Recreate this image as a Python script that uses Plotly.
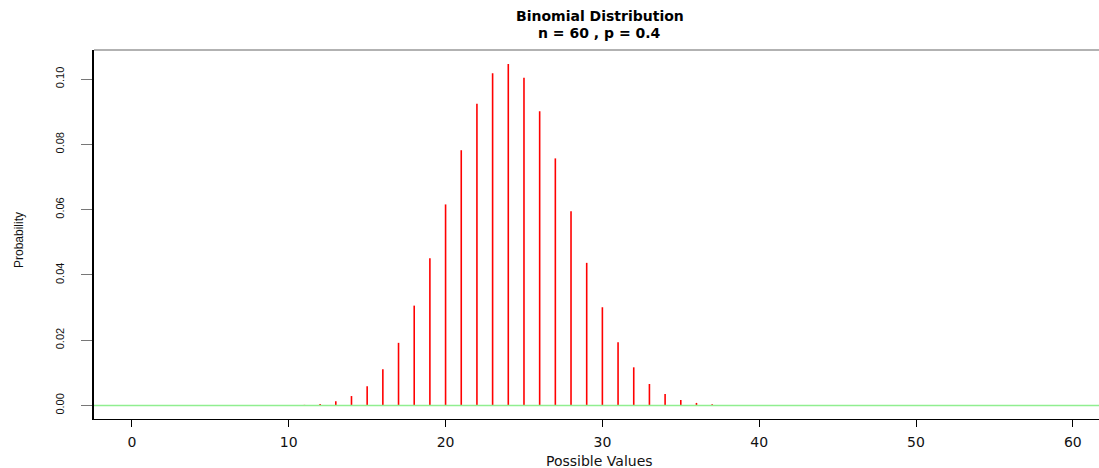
import plotly.graph_objects as go

# Data: possible values and their probabilities
values = list(range(0, 61))
probabilities = [
    0.0, 0.0, 0.0, 0.0, 0.0, 0.0, 0.0, 0.0, 0.0, 0.00002,
    0.00006, 0.0002, 0.0005, 0.0013, 0.0029, 0.0059, 0.0111, 0.0192, 0.0306, 0.0451,
    0.0616, 0.0782, 0.0924, 0.1018, 0.1046, 0.1004, 0.0901, 0.0757, 0.0595, 0.0437,
    0.0301, 0.0194, 0.0117, 0.0066, 0.0035, 0.0017, 0.0008, 0.00035, 0.00014, 0.00005,
    0.00002, 0.0, 0.0, 0.0, 0.0, 0.0, 0.0, 0.0, 0.0, 0.0,
    0.0, 0.0, 0.0, 0.0, 0.0, 0.0, 0.0, 0.0, 0.0, 0.0,
    0.0,
]
x_ticks = [0, 10, 20, 30, 40, 50, 60]
y_ticks = [0.00, 0.02, 0.04, 0.06, 0.08, 0.10]
y_tick_labels = ["0.00", "0.02", "0.04", "0.06", "0.08", "0.10"]
title_line1 = "Binomial Distribution"
title_line2 = "n = 60 , p = 0.4"
x_label = "Possible Values"
y_label = "Probability"

# Build vertical "h"-type segments
xs, ys = [], []
for v, p in zip(values, probabilities):
    xs += [v, v, None]
    ys += [0, p, None]

fig = go.Figure()
fig.add_trace(go.Scatter(x=xs, y=ys, mode="lines",
                         line=dict(color="#ff0000", width=1.6),
                         hoverinfo="skip", showlegend=False))

W, H = 1099, 468
L, T, B = 94, 50, 49
plot_h = H - T - B

fig.update_layout(
    width=W, height=H,
    margin=dict(l=L, r=0, t=T, b=B, pad=0),
    paper_bgcolor="white", plot_bgcolor="white",
    showlegend=False,
    xaxis=dict(range=[-2.42, 61.67], showgrid=False, zeroline=False,
               showline=True, linecolor="black", linewidth=1,
               ticks="outside", ticklen=7, tickcolor="black", tickwidth=1,
               tickvals=x_ticks, ticktext=[str(t) for t in x_ticks],
               tickfont=dict(family="DejaVu Sans", size=14, color="#111"),
               ticklabelstandoff=3),
    yaxis=dict(range=[-0.00413, 0.1089], showgrid=False, zeroline=False,
               showline=True, linecolor="black", linewidth=1.5,
               ticks="outside", ticklen=11, tickcolor="#777", tickwidth=1,
               tickvals=y_ticks, ticktext=y_tick_labels, tickangle=-90,
               tickfont=dict(family="Liberation Sans", size=11, color="#111"),
               ticklabelstandoff=13),
    shapes=[
        dict(type="line", xref="paper", yref="y", x0=0, x1=1, y0=0, y1=0,
             line=dict(color="#90EE90", width=1.5), layer="above"),
        dict(type="line", xref="paper", yref="paper", x0=0, x1=1, y0=1, y1=1,
             line=dict(color="#999999", width=1.5)),
    ],
    annotations=[
        dict(text="<b>%s</b>" % title_line1, xref="paper", yref="paper",
             x=0.503, y=(H - B - 16) / plot_h, xanchor="center", yanchor="middle",
             showarrow=False, font=dict(family="DejaVu Sans", size=14, color="black")),
        dict(text="<b>%s</b>" % title_line2, xref="paper", yref="paper",
             x=0.503, y=(H - B - 33) / plot_h, xanchor="center", yanchor="middle",
             showarrow=False, font=dict(family="DejaVu Sans", size=14, color="black")),
        dict(text=x_label, xref="paper", yref="paper",
             x=0.503, y=(H - B - 461) / plot_h, xanchor="center", yanchor="middle",
             showarrow=False, font=dict(family="DejaVu Sans", size=14, color="#111")),
        dict(text=y_label, xref="paper", yref="paper", textangle=-90,
             x=(19 - L) / (W - L), y=(H - B - 240) / plot_h,
             xanchor="center", yanchor="middle",
             showarrow=False, font=dict(family="Liberation Sans", size=12, color="#111")),
    ],
)

fig.write_html("out.html")
